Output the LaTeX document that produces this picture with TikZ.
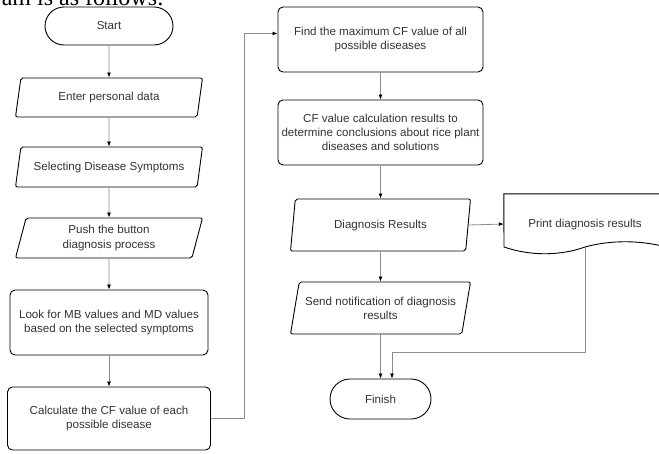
\documentclass[tikz,border=0pt]{standalone}
\usepackage{fontspec}
\setmainfont{Liberation Sans}
\newfontfamily\leadfont{Liberation Serif}
\usetikzlibrary{calc,arrows.meta,shapes.geometric,shapes.misc}
\definecolor{linegray}{HTML}{8C8C8C}
\definecolor{textgray}{HTML}{333333}
\tikzset{
	box/.style={draw=black, line width=0.9pt, text=textgray, align=center, inner sep=2pt,
		font=\fontsize{11.6}{14.3}\selectfont},
	term/.style={box, rounded rectangle},
	proc/.style={box, rectangle, rounded corners=5pt},
	io/.style={box, trapezium, trapezium left angle=#1, trapezium right angle=180-#1,
		trapezium stretches body, rounded corners=2pt},
	io/.default=70,
	flow/.style={draw=linegray, line width=0.8pt, -{Latex[length=5pt,width=4pt,color=black]}},
}

\begin{document}
\begin{tikzpicture}[x=1pt, y=1pt]
		%%%%% START %%%%%
		
		\useasboundingbox (0, 0) rectangle (659, -453);
		\clip (0, 0) rectangle (659, -453);
		
		\node[font=\leadfont\fontsize{24}{28}\selectfont, anchor=base east, inner sep=0pt] (lead) at (164, -5) {diagram is as follows:};
		
		% left column
		\node[term, minimum width=132pt, minimum height=38pt] (start) at (109, -26) {Start};
		\node[io, minimum width=187pt, minimum height=39pt] (enter) at (109, -97.5) {Enter personal data};
		\node[io, minimum width=187pt, minimum height=40pt] (select) at (109, -167) {Selecting Disease Symptoms};
		\node[io, minimum width=187pt, minimum height=40pt] (push) at (109, -238) {Push the button\\diagnosis process};
		\node[proc, minimum width=198pt, minimum height=65pt] (look) at (109, -322.5) {Look for MB values and MD values\\based on the selected symptoms};
		\node[proc, minimum width=203pt, minimum height=63pt] (calc) at (109, -418.5) {Calculate the CF value of each\\possible disease};
		
		% right column
		\node[proc, minimum width=205pt, minimum height=65pt] (find) at (380.5, -39.5) {Find the maximum CF value of all\\possible diseases};
		\node[proc, minimum width=205pt, minimum height=65pt] (cfres) at (380.5, -132.5) {CF value calculation results to\\determine conclusions about rice plant\\diseases and solutions};
		\node[io=72, minimum width=180pt, minimum height=52pt] (diag) at (380.5, -225) {Diagnosis Results};
		\node[io=72, minimum width=180pt, minimum height=52pt] (send) at (380.5, -308) {Send notification of diagnosis\\results};
		\node[term, minimum width=105pt, minimum height=40pt] (finish) at (380.5, -399) {Finish};
		
		% printed document
		\node[text=textgray, font=\fontsize{11.6}{14.3}\selectfont, minimum width=162pt, minimum height=60pt] (print) at (585, -224) {Print diagnosis results};
		\draw[line width=0.9pt] (print.north west) -- (print.north east) -- (666, -247)
			.. controls (640, -240) and (610, -240) .. (585, -247)
			.. controls (560, -256) and (530, -256) .. (504, -247) -- cycle;
		\coordinate (printout) at (585, -247);
		
		% connectors
		\draw[flow] (start) -- (enter);
		\draw[flow] (enter) -- (select);
		\draw[flow] (select) -- (push);
		\draw[flow] (push) -- (look);
		\draw[flow] (look) -- (calc);
		\draw[flow] (calc.east) -- ++(33, 0) |- ([yshift=6pt]find.west);
		\draw[flow] (find) -- (cfres);
		\draw[flow] (cfres) -- (diag);
		\draw[flow] (diag) -- (send);
		\draw[flow] (send) -- (finish);
		\draw[flow] (diag.east) -- (print.west);
		\draw[flow] (printout) -- ++(0, -105) -| ([xshift=11.5pt]finish.north);
		
		%%%%% END %%%%%
\end{tikzpicture}
\end{document}
